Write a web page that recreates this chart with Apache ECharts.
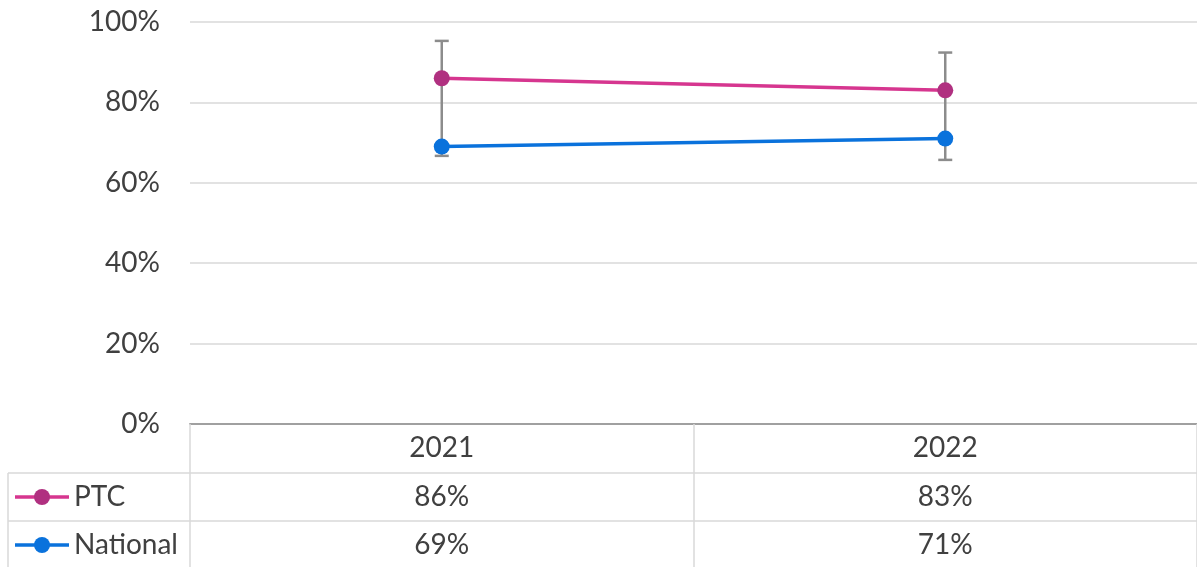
<!DOCTYPE html>
<html>
<head>
<meta charset="utf-8">
<script src="https://cdn.jsdelivr.net/npm/echarts@6/dist/echarts.min.js"></script>
<style>
  html, body { margin: 0; padding: 0; background: #fff; }
  #chart { width: 1197px; height: 567px; }
</style>
</head>
<body>
<div id="chart"></div>
<script>
// Survey results by year, with interval bounds
const years = ['2021', '2022'];
const ptcValues = [86, 83];
const nationalValues = [69, 71];
const intervalLow = [66.7, 65.7];
const intervalHigh = [95.3, 92.4];
const yTicks = [0, 20, 40, 60, 80, 100];

const seriesNames = ['PTC', 'National'];
const lineColors = ['#d6368f', '#0a72dc'];
const markerColors = ['#b03080', '#0a72dc'];

const FONT = 'Lato, "Liberation Sans", sans-serif';
const TEXT = '#404040';
const GRID = '#d9d9d9';

const chart = echarts.init(document.getElementById('chart'), null, { renderer: 'canvas' });

const pct = v => Math.round(v) + '%';

// Table rows beneath the plot: one category axis per row
function rowAxis(values, offset) {
  return {
    type: 'category',
    gridIndex: 0,
    position: 'bottom',
    offset: offset,
    data: values.map(pct),
    boundaryGap: true,
    axisLine: { show: false },
    axisTick: { show: false },
    axisLabel: { color: TEXT, fontFamily: FONT, fontSize: 28, lineHeight: 28, margin: 10 },
    splitLine: { show: false }
  };
}

const option = {
  animation: false,
  backgroundColor: '#ffffff',
  grid: { left: 190, right: 0, top: 22, bottom: 143, containLabel: false },
  xAxis: [
    {
      type: 'category',
      data: years,
      boundaryGap: true,
      axisLine: { show: true, lineStyle: { color: '#a0a0a0', width: 2 } },
      axisTick: { show: true, inside: false, length: 143, lineStyle: { color: GRID, width: 1.5 } },
      axisLabel: { color: TEXT, fontFamily: FONT, fontSize: 28, lineHeight: 28, margin: 10 },
      splitLine: { show: false }
    },
    rowAxis(ptcValues, 49),
    rowAxis(nationalValues, 97)
  ],
  yAxis: {
    type: 'value',
    min: yTicks[0],
    max: yTicks[yTicks.length - 1],
    interval: yTicks[1] - yTicks[0],
    axisLine: { show: false },
    axisTick: { show: false },
    axisLabel: {
      color: TEXT, fontFamily: FONT, fontSize: 28, margin: 30,
      formatter: v => v + '%'
    },
    splitLine: { lineStyle: { color: GRID, width: 1.5 } }
  },
  series: [
    {
      type: 'custom',
      name: 'interval',
      z: 1,
      silent: true,
      data: years.map((y, i) => [i, intervalLow[i], intervalHigh[i]]),
      renderItem: function (params, api) {
        const x = api.coord([api.value(0), 0])[0];
        const lo = api.coord([api.value(0), api.value(1)])[1];
        const hi = api.coord([api.value(0), api.value(2)])[1];
        const cap = 7;
        const style = { stroke: '#8c8c8c', lineWidth: 2.5 };
        return {
          type: 'group',
          children: [
            { type: 'line', shape: { x1: x, y1: hi, x2: x, y2: lo }, style: style },
            { type: 'line', shape: { x1: x - cap, y1: hi, x2: x + cap, y2: hi }, style: style },
            { type: 'line', shape: { x1: x - cap, y1: lo, x2: x + cap, y2: lo }, style: style }
          ]
        };
      }
    },
    {
      type: 'line',
      name: seriesNames[0],
      z: 3,
      data: ptcValues,
      symbol: 'circle',
      symbolSize: 16,
      lineStyle: { color: lineColors[0], width: 3.5 },
      itemStyle: { color: markerColors[0] }
    },
    {
      type: 'line',
      name: seriesNames[1],
      z: 3,
      data: nationalValues,
      symbol: 'circle',
      symbolSize: 16,
      lineStyle: { color: lineColors[1], width: 3.5 },
      itemStyle: { color: markerColors[1] }
    }
  ]
};

chart.setOption(option);

// Table borders and legend keys in the first column
const rowCenters = [497, 545];
const graphics = [
  { type: 'line', shape: { x1: 8, y1: 473, x2: 1197, y2: 473 }, style: { stroke: GRID, lineWidth: 1.5 } },
  { type: 'line', shape: { x1: 8, y1: 521, x2: 1197, y2: 521 }, style: { stroke: GRID, lineWidth: 1.5 } },
  { type: 'line', shape: { x1: 8, y1: 473, x2: 8, y2: 567 }, style: { stroke: GRID, lineWidth: 1.5 } }
];
seriesNames.forEach((name, i) => {
  const cy = rowCenters[i];
  graphics.push(
    { type: 'line', shape: { x1: 15, y1: cy, x2: 69, y2: cy }, style: { stroke: lineColors[i], lineWidth: 3.5 } },
    { type: 'circle', shape: { cx: 42, cy: cy, r: 8 }, style: { fill: markerColors[i] } },
    { type: 'text', x: 74, y: cy, style: { text: name, fill: TEXT, font: '28px ' + FONT, textVerticalAlign: 'middle', verticalAlign: 'middle' } }
  );
});
chart.setOption({ graphic: graphics });
</script>
</body>
</html>
